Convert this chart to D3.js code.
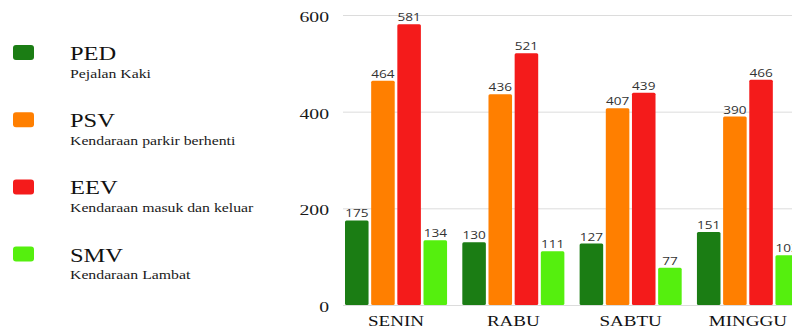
<!DOCTYPE html>
<html>
<head>
<meta charset="utf-8">
<script src="https://cdn.jsdelivr.net/npm/d3@7"></script>
<style>
  html, body { margin: 0; padding: 0; background: #fff; }
  svg { display: block; }
  .serif { font-family: "Liberation Serif", "Times New Roman", "DejaVu Serif", serif; }
  .sans { font-family: "Open Sans", "DejaVu Sans", sans-serif; }
</style>
</head>
<body>
<svg id="chart" width="792" height="331"></svg>
<script>
// Days observed
const categories = ["SENIN", "RABU", "SABTU", "MINGGU"];
// Series codes, descriptions and colours
const seriesKeys = ["PED", "PSV", "EEV", "SMV"];
const seriesNames = ["Pejalan Kaki", "Kendaraan parkir berhenti", "Kendaraan masuk dan keluar", "Kendaraan Lambat"];
const seriesColors = ["#1b7d14", "#ff7f00", "#f41b1b", "#55ef0e"];
// Counts per day
const PED = [175, 130, 127, 151];
const PSV = [464, 436, 407, 390];
const EEV = [581, 521, 439, 466];
const SMV = [134, 111, 77, 103];
const yTicks = [0, 200, 400, 600];

const seriesValues = [PED, PSV, EEV, SMV];
const rows = categories.map((c, i) => ({
  day: c,
  values: seriesKeys.map((k, j) => ({ key: k, value: seriesValues[j][i], color: seriesColors[j] }))
}));

const svg = d3.select("#chart");
const SX = 1.36; // horizontal text widening

const y = d3.scaleLinear().domain([0, 600]).range([305, 15]);
const x0 = d3.scaleBand().domain(categories).range([345, 799]).paddingInner(0.13).paddingOuter(0);
const x1 = d3.scaleBand().domain(seriesKeys).range([0, x0.bandwidth()]).paddingInner(0.1);

// Horizontal grid lines
svg.append("g").selectAll("line").data(yTicks).join("line")
  .attr("x1", 343).attr("x2", 792)
  .attr("y1", d => y(d) + 0.5).attr("y2", d => y(d) + 0.5)
  .attr("stroke", "#dcdcdc").attr("stroke-width", 1);

// Y tick labels
svg.append("g").selectAll("text").data(yTicks).join("text")
  .attr("class", "serif")
  .attr("transform", d => `translate(329,${y(d) + 7}) scale(${SX},1)`)
  .attr("text-anchor", "end")
  .attr("font-size", 14.5)
  .attr("fill", "#1a1a1a")
  .text(d => d);

// Bars and value labels
const groups = svg.append("g").selectAll("g").data(rows).join("g")
  .attr("transform", d => `translate(${x0(d.day)},0)`);

groups.selectAll("rect").data(d => d.values).join("rect")
  .attr("x", d => x1(d.key))
  .attr("y", d => y(d.value))
  .attr("width", x1.bandwidth())
  .attr("height", d => y(0) - y(d.value))
  .attr("rx", 1.5)
  .attr("fill", d => d.color);

groups.selectAll("text").data(d => d.values).join("text")
  .attr("class", "sans")
  .attr("transform", d => `translate(${x1(d.key) + x1.bandwidth() / 2},${y(d.value) - 3}) scale(${SX},1)`)
  .attr("text-anchor", "middle")
  .attr("font-size", 10)
  .attr("fill", "#333")
  .text(d => d.value);

// Category labels
svg.append("g").selectAll("text").data(categories).join("text")
  .attr("class", "serif")
  .attr("transform", d => `translate(${x0(d) + x0.bandwidth() / 2},326) scale(${SX},1)`)
  .attr("text-anchor", "middle")
  .attr("font-size", 14)
  .attr("fill", "#111")
  .text(d => d);

// Legend
const legend = svg.append("g").selectAll("g").data(seriesKeys).join("g")
  .attr("transform", (d, i) => `translate(0,${60 + i * 67.2})`);

legend.append("rect")
  .attr("x", 13).attr("y", -15).attr("width", 21).attr("height", 15)
  .attr("rx", 3)
  .attr("fill", (d, i) => seriesColors[i]);

legend.append("text")
  .attr("class", "serif")
  .attr("transform", `translate(70,0) scale(${SX},1)`)
  .attr("font-size", 18)
  .attr("fill", "#111")
  .text(d => d);

legend.append("text")
  .attr("class", "serif")
  .attr("transform", `translate(70,17.5) scale(${SX},1)`)
  .attr("font-size", 11.6)
  .attr("fill", "#1a1a1a")
  .text((d, i) => seriesNames[i]);
</script>
</body>
</html>
